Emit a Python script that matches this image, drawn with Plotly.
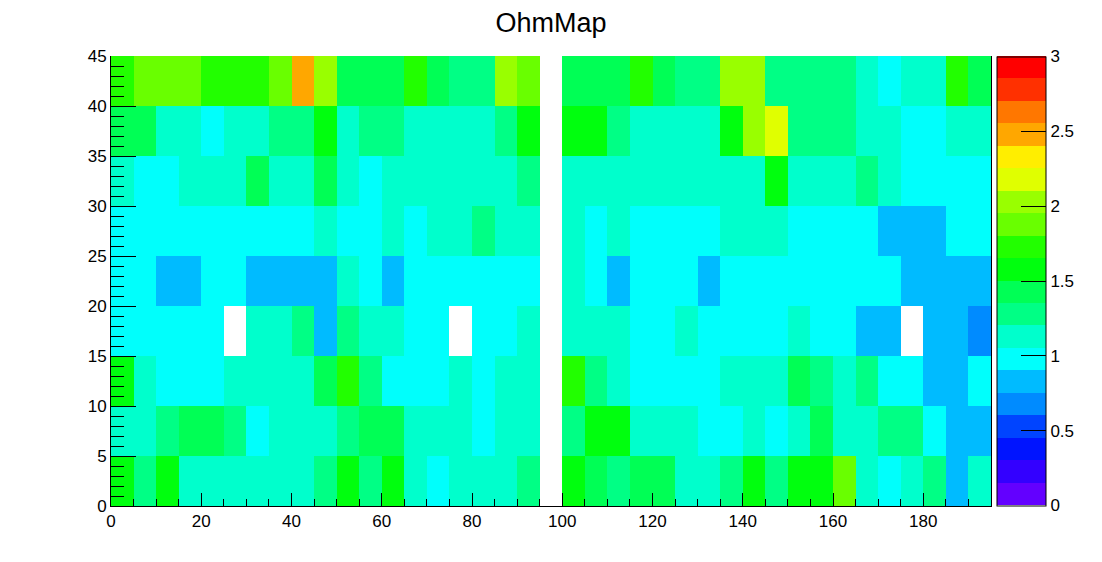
import plotly.graph_objects as go

# ---- data ----
# colour-band codes (value = centre of the palette band)
band_value = {
    "D": 0.68, "B": 0.83, "C": 0.98, "A": 1.13, "S": 1.28, "M": 1.43,
    "G": 1.58, "H": 1.73, "L": 1.88, "Y": 2.03, "Z": 2.18, "O": 2.48, "W": None,
}

# rows from y=0-5 (bottom) to y=40-45 (top); 39 columns of width 5 (x 0..195)
row_0 = "G S G A A A A A A S G S G A C A A A S W G M S M M A A S G S G G L A C A S B A"
row_1 = "A A S M M S C A A A S M M A A A C A A W S G G A A A C C A C A M A A S S C B B"
row_2 = "G A C C C A A A A M H S C C C A C A A W H S A C C C C A A A M S A S C C B B C"
row_3 = "C C C C C W A A S B S A A C C W C C A W A A A C C A C C C C A C C B B W B B D"
row_4 = "C C B B C C B B B B A C B C C C C C C W A C B C C C B C C C C C C C C B B B B"
row_5 = "C C C C C C C C C A C C A C A A S A A W A C A C C C C A A A C C C C B B B C C"
row_6 = "A C C A A A M A A M A C A A A A A A S W A A A A A A A A A G A A A S A C C C C"
row_7 = "M M A A C A A S S G A S S A A A A S G W G G S A A A A G Y Z S S S A A C C A A"
row_8 = "H L L L H H H L O Y M M M H M S S Y L W M M M H M S S Y Y S S S S A C A A H M"

rows = [row_0, row_1, row_2, row_3, row_4, row_5, row_6, row_7, row_8]
z_values = [[band_value[c] for c in r.split()] for r in rows]

n_x_bins = 39
bin_w_x = 5
n_y_bins = 9
bin_w_y = 5
x_edges = [i * bin_w_x for i in range(n_x_bins + 1)]
y_edges = [j * bin_w_y for j in range(n_y_bins + 1)]

z_min, z_max, n_contours = 0.0, 3.0, 20

# ROOT "pretty" palette colours used for 20 contours
palette = [
    "#6300ff", "#3300ff", "#0014ff", "#0044ff", "#008bff", "#00bbff",
    "#00fffc", "#00ffcc", "#00ff85", "#00ff55", "#00ff0e", "#22ff00",
    "#69ff00", "#99ff00", "#e0ff00", "#ffee00", "#ffa700", "#ff7700",
    "#ff3000", "#ff0000",
]

colorscale = []
for k, col in enumerate(palette):
    colorscale.append([k / n_contours, col])
    colorscale.append([(k + 1) / n_contours, col])

FONT = "Liberation Sans, Arial, Helvetica, sans-serif"

fig = go.Figure(
    go.Heatmap(
        z=z_values,
        x=x_edges,
        y=y_edges,
        zmin=z_min,
        zmax=z_max,
        colorscale=colorscale,
        hoverongaps=False,
        colorbar=dict(
            thicknessmode="pixels",
            thickness=49,
            lenmode="pixels",
            len=449,
            x=1.0065,
            xanchor="left",
            xpad=0,
            y=0.5,
            yanchor="middle",
            ypad=0,
            outlinecolor="black",
            outlinewidth=1,
            tickmode="linear",
            tick0=0,
            dtick=0.5,
            ticks="inside",
            ticklen=25,
            tickcolor="black",
            tickwidth=1,
            tickfont=dict(family=FONT, size=17, color="black"),
        ),
    )
)

# the page body adds an 8px offset, so the figure is 8px smaller and margins shifted
fig.update_layout(
    width=1094,
    height=554,
    margin=dict(l=103, r=111, t=48, b=56, autoexpand=False),
    paper_bgcolor="white",
    plot_bgcolor="white",
    title=dict(
        text="OhmMap",
        x=0.5,
        xref="paper",
        xanchor="center",
        y=0.9729,
        yref="container",
        yanchor="middle",
        font=dict(family=FONT, size=27, color="black"),
    ),
    font=dict(family=FONT, color="black"),
)

fig.update_xaxes(
    range=[0, 195],
    tickmode="linear",
    tick0=0,
    dtick=20,
    ticks="inside",
    ticklen=13,
    tickcolor="black",
    showgrid=False,
    zeroline=False,
    showline=True,
    linecolor="black",
    linewidth=1,
    mirror=False,
    automargin=False,
    tickfont=dict(family=FONT, size=17, color="black"),
    minor=dict(dtick=5, tick0=0, ticks="inside", ticklen=7, tickcolor="black", showgrid=False),
)

fig.update_yaxes(
    range=[0, 45],
    tickmode="linear",
    tick0=0,
    dtick=5,
    ticks="inside",
    ticklen=25,
    tickcolor="black",
    showgrid=False,
    zeroline=False,
    showline=True,
    linecolor="black",
    linewidth=1,
    mirror=True,
    automargin=False,
    tickfont=dict(family=FONT, size=17, color="black"),
    minor=dict(dtick=1, tick0=0, ticks="inside", ticklen=13, tickcolor="black", showgrid=False),
)

fig.write_html("out.html")
